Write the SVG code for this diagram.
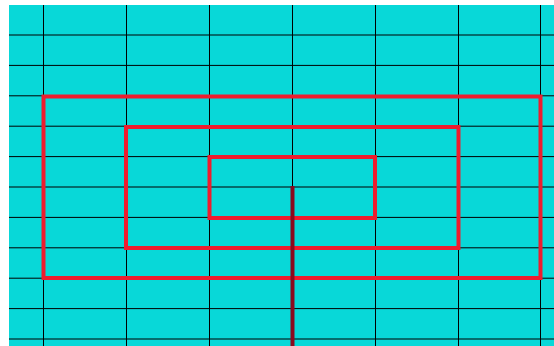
<svg xmlns="http://www.w3.org/2000/svg" width="554" height="346" viewBox="0 0 554 346">
<style>
.grid line{stroke:#000;stroke-width:1}
.box{fill:none;stroke:#ee1c2e;stroke-width:4}
</style>
<rect x="0" y="0" width="554" height="346" fill="#fff"/>
<rect x="9" y="5" width="545" height="341" fill="#08d8d8"/>
<g class="grid" id="grid">
<line x1="43.5" y1="5" x2="43.5" y2="346"/>
<line x1="126.5" y1="5" x2="126.5" y2="346"/>
<line x1="209.5" y1="5" x2="209.5" y2="346"/>
<line x1="292.5" y1="5" x2="292.5" y2="346"/>
<line x1="375.5" y1="5" x2="375.5" y2="346"/>
<line x1="458.5" y1="5" x2="458.5" y2="346"/>
<line x1="540.5" y1="5" x2="540.5" y2="346"/>
<line x1="9" y1="35" x2="554" y2="35"/>
<line x1="9" y1="65.4" x2="554" y2="65.4"/>
<line x1="9" y1="95.8" x2="554" y2="95.8"/>
<line x1="9" y1="126.2" x2="554" y2="126.2"/>
<line x1="9" y1="156.6" x2="554" y2="156.6"/>
<line x1="9" y1="187" x2="554" y2="187"/>
<line x1="9" y1="217.4" x2="554" y2="217.4"/>
<line x1="9" y1="247.8" x2="554" y2="247.8"/>
<line x1="9" y1="278.2" x2="554" y2="278.2"/>
<line x1="9" y1="308.6" x2="554" y2="308.6"/>
<line x1="9" y1="339" x2="554" y2="339"/>
</g>
<g id="outer"><rect class="box" x="43.5" y="96.5" width="497" height="181.5"/></g>
<g id="middle"><rect class="box" x="126" y="127" width="332.5" height="121"/></g>
<g id="inner"><rect class="box" x="209.5" y="157" width="165.5" height="61"/></g>
<g id="connectors"><line x1="292.5" y1="186" x2="292.5" y2="346" stroke="#8a0a1e" stroke-width="4"/></g>
</svg>
